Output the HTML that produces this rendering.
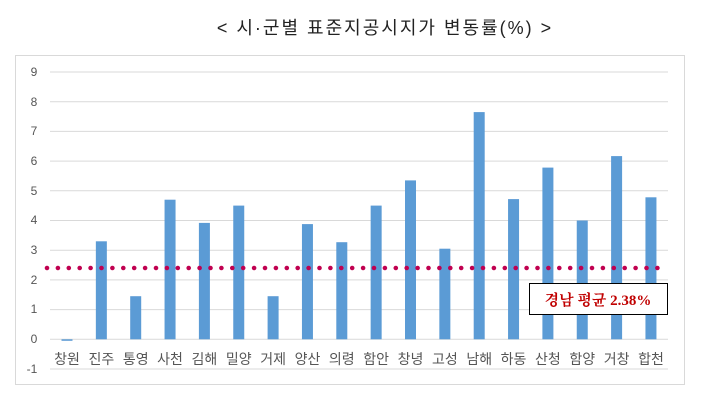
<!DOCTYPE html>
<html><head><meta charset="utf-8"><style>body{margin:0;background:#fff}</style></head><body>
<svg width="710" height="400" xmlns="http://www.w3.org/2000/svg" font-family="'Liberation Sans','Noto Sans CJK KR',sans-serif">
<text x="385" y="34" text-anchor="middle" font-size="18" letter-spacing="2" fill="#222">&lt; 시·군별  표준지공시지가 변동률(%) &gt;</text>
<rect x="15.5" y="55.5" width="669" height="329" fill="none" stroke="#d9d9d9"/>
<g stroke="#d9d9d9" stroke-width="1">
<line x1="50" x2="668" y1="72" y2="72"/><line x1="50" x2="668" y1="101.7" y2="101.7"/><line x1="50" x2="668" y1="131.4" y2="131.4"/><line x1="50" x2="668" y1="161.1" y2="161.1"/><line x1="50" x2="668" y1="190.8" y2="190.8"/><line x1="50" x2="668" y1="220.5" y2="220.5"/><line x1="50" x2="668" y1="250.2" y2="250.2"/><line x1="50" x2="668" y1="279.9" y2="279.9"/><line x1="50" x2="668" y1="309.6" y2="309.6"/><line x1="50" x2="668" y1="339.3" y2="339.3"/><line x1="50" x2="668" y1="369" y2="369"/>
</g>
<g font-size="12" fill="#555" text-anchor="middle">
<text x="34" y="76">9</text><text x="34" y="106">8</text><text x="34" y="135">7</text><text x="34" y="165">6</text><text x="34" y="195">5</text><text x="34" y="224">4</text><text x="34" y="254">3</text><text x="34" y="284">2</text><text x="34" y="313">1</text><text x="34" y="343">0</text><text x="32" y="373">-1</text>
</g>
<g fill="#5b9bd5">
<rect x="61.5" y="339.3" width="11" height="1.5"/>
<rect x="95.85" y="241.3" width="11" height="98"/>
<rect x="130.2" y="296.2" width="11" height="43.1"/>
<rect x="164.55" y="199.7" width="11" height="139.6"/>
<rect x="198.9" y="222.9" width="11" height="116.4"/>
<rect x="233.25" y="205.6" width="11" height="133.7"/>
<rect x="267.6" y="296.2" width="11" height="43.1"/>
<rect x="301.95" y="224.1" width="11" height="115.2"/>
<rect x="336.3" y="242.2" width="11" height="97.1"/>
<rect x="370.65" y="205.6" width="11" height="133.7"/>
<rect x="405" y="180.4" width="11" height="158.9"/>
<rect x="439.35" y="248.7" width="11" height="90.6"/>
<rect x="473.7" y="112.1" width="11" height="227.2"/>
<rect x="508.05" y="199.1" width="11" height="140.2"/>
<rect x="542.4" y="167.6" width="11" height="171.7"/>
<rect x="576.75" y="220.5" width="11" height="118.8"/>
<rect x="611.1" y="156.1" width="11" height="183.2"/>
<rect x="645.45" y="197.3" width="11" height="142"/>
</g>
<g font-size="14" fill="#555" text-anchor="middle">
<text x="67" y="364">창원</text><text x="101.35" y="364">진주</text><text x="135.7" y="364">통영</text><text x="170.05" y="364">사천</text><text x="204.4" y="364">김해</text><text x="238.75" y="364">밀양</text><text x="273.1" y="364">거제</text><text x="307.45" y="364">양산</text><text x="341.8" y="364">의령</text><text x="376.15" y="364">함안</text><text x="410.5" y="364">창녕</text><text x="444.85" y="364">고성</text><text x="479.2" y="364">남해</text><text x="513.55" y="364">하동</text><text x="547.9" y="364">산청</text><text x="582.25" y="364">함양</text><text x="616.6" y="364">거창</text><text x="650.95" y="364">합천</text>
</g>
<line x1="47" y1="268" x2="664" y2="268" stroke="#c00050" stroke-width="4.6" stroke-linecap="round" stroke-dasharray="0 10.9"/>
<rect x="529.5" y="283.5" width="138" height="31" fill="#fff" stroke="#000"/>
<text x="598" y="305" text-anchor="middle" font-size="15" fill="#c00000" font-family="'Liberation Serif','Noto Serif CJK SC',serif" font-weight="bold">경남 평균 2.38%</text>
</svg>
</body></html>
